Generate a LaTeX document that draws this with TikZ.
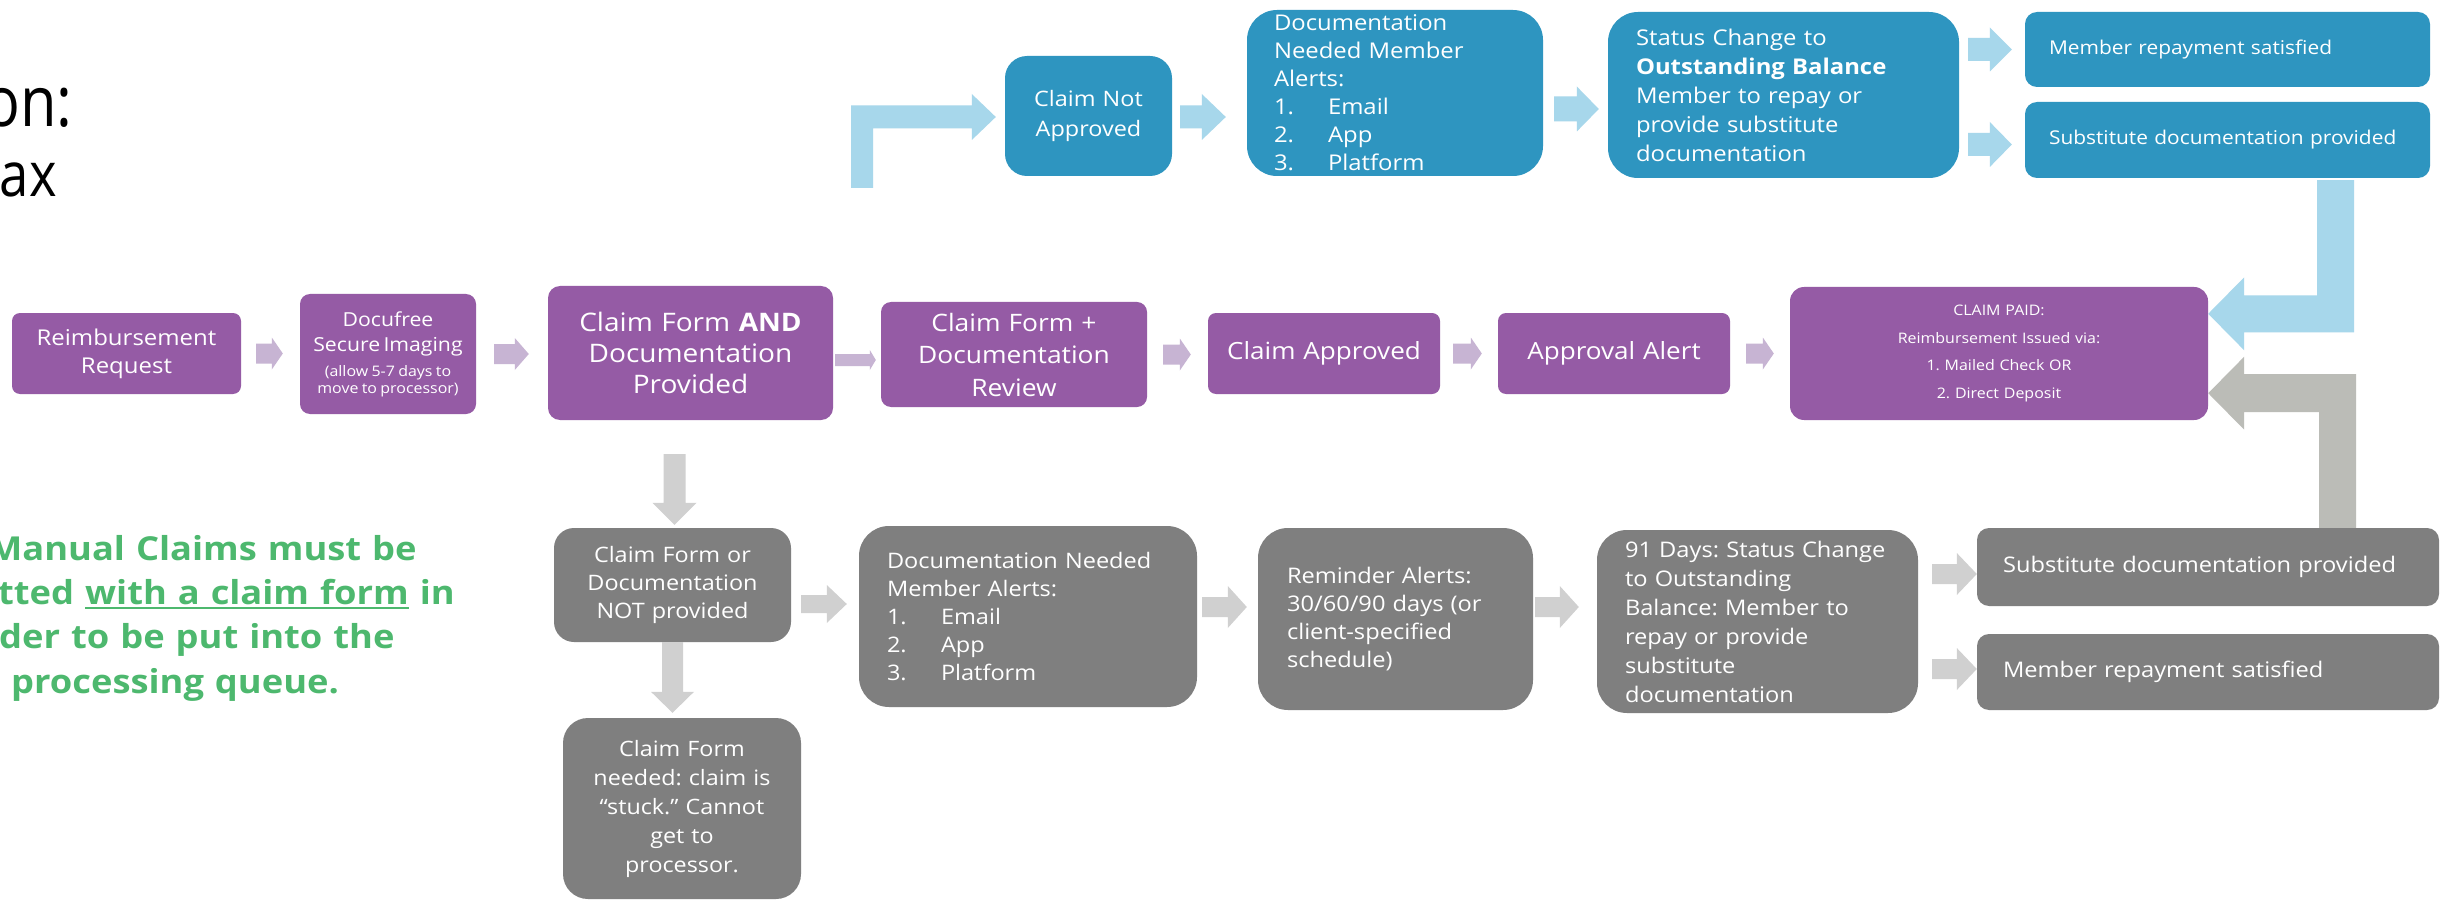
\documentclass[tikz,border=0pt]{standalone}
\usepackage{fontspec}
\setmainfont[FakeStretch=1.1]{Open Sans}
\newfontfamily\headfont[FakeStretch=0.85]{Open Sans}
\usetikzlibrary{calc}
\frenchspacing

\definecolor{pfill}{RGB}{149,91,165}
\definecolor{bfill}{RGB}{46,149,192}
\definecolor{gfill}{RGB}{127,127,127}
\definecolor{parrow}{RGB}{199,180,211}
\definecolor{barrow}{RGB}{167,215,235}
\definecolor{garrow}{RGB}{208,208,208}
\definecolor{retarrow}{RGB}{187,188,183}
\definecolor{notegreen}{RGB}{77,184,110}

\newcommand{\fs}[2]{\fontsize{#1}{#2}\selectfont}
\newcommand{\itemno}[1]{\makebox[54pt][l]{#1}}
\newsavebox{\ulbox}
\newcommand{\thickul}[1]{\sbox{\ulbox}{#1}\rlap{\raisebox{-4.5pt}{\rule{\wd\ulbox}{2pt}}}\usebox{\ulbox}}

% block arrow pointing right: colour, tail point, tip point, shaft half, head half, head length
\newcommand{\blockright}[6]{%
  \fill[#1] let \p1=#2, \p2=#3 in
    (\x1,\y1+#4) -- (\x2-#6,\y1+#4) -- (\x2-#6,\y1+#5) -- (\x2,\y1)
    -- (\x2-#6,\y1-#5) -- (\x2-#6,\y1-#4) -- (\x1,\y1-#4) -- cycle;}
% block arrow pointing down: colour, tail point, tip point, shaft half, head half, head length
\newcommand{\blockdown}[6]{%
  \fill[#1] let \p1=#2, \p2=#3 in
    (\x2-#4,\y1) -- (\x2-#4,\y2+#6) -- (\x2-#5,\y2+#6) -- (\x2,\y2)
    -- (\x2+#5,\y2+#6) -- (\x2+#4,\y2+#6) -- (\x2+#4,\y1) -- cycle;}

\begin{document}
\begin{tikzpicture}[x=1pt,y=-1pt,
  box/.style={rectangle, inner sep=0pt, text=white},
  pbox/.style={box, fill=pfill},
  bbox/.style={box, fill=bfill},
  gbox/.style={box, fill=gfill}]
\useasboundingbox (0,0) rectangle (2441,901);
\clip (0,0) rectangle (2441,901);
\fill[white] (0,0) rectangle (2441,901);

% heading fragments
\node[anchor=base east, inner sep=0pt, font=\headfont\fontsize{70}{84}\selectfont] (heading) at (73,127) {on:};
\node[anchor=base east, inner sep=0pt, font=\headfont\fontsize{62}{74}\selectfont] (subheading) at (57,197) {ax};

% main (purple) row
\node[pbox, rounded corners=8, minimum width=229, minimum height=81, text width=225, align=center, font=\fs{21.8}{28}] (req) at (126.5,353.5) {Reimbursement\\Request};
\node[pbox, rounded corners=10, minimum width=176, minimum height=120, text width=172, align=center] (docu) at (388,354)
  {{\fs{19.3}{25}Docufree\\Secure Imaging\par}\vspace{8pt}{\fs{14.5}{17}(allow 5-7 days to\\move to processor)\par}};
\node[pbox, rounded corners=12, minimum width=285, minimum height=134, text width=281, align=center, font=\fs{25.5}{31}] (cfand) at (690.5,353) {Claim Form \textbf{AND}\\Documentation\\Provided};
\node[pbox, rounded corners=10, minimum width=266, minimum height=105, text width=262, align=center, font=\fs{24}{32.5}] (review) at (1014,354.5) {Claim Form +\\Documentation\\Review};
\node[pbox, rounded corners=8, minimum width=232, minimum height=81, text width=228, align=center, font=\fs{23.7}{30}] (approved) at (1324,353.5) {Claim Approved};
\node[pbox, rounded corners=8, minimum width=232, minimum height=81, text width=228, align=center, font=\fs{23.7}{30}] (alert) at (1614,353.5) {Approval Alert};
\node[pbox, rounded corners=14, minimum width=418, minimum height=133, text width=410, align=center, font=\fs{14.5}{27.7}] (paid) at (1999,353.5) {CLAIM PAID:\\Reimbursement Issued via:\\1. Mailed Check OR\\2. Direct Deposit};

% not approved (blue) row
\node[bbox, rounded corners=22, minimum width=167, minimum height=120, text width=163, align=center, font=\fs{21.3}{30}] (notappr) at (1088.5,116) {Claim Not\\Approved};
\node[bbox, rounded corners=30, minimum width=296, minimum height=166, text width=242, align=left, font=\fs{21.7}{28}] (docalert) at (1395,93) {Documentation\\Needed Member\\Alerts:\\\itemno{1.}Email\\\itemno{2.}App\\\itemno{3.}Platform};
\node[bbox, rounded corners=30, minimum width=351, minimum height=166, text width=295, align=left, font=\fs{21.7}{29}] (status) at (1783.5,95) {Status Change to\\\textbf{Outstanding Balance}\\Member to repay or\\provide substitute\\documentation};
\node[bbox, rounded corners=12, minimum width=405, minimum height=75, text width=357, align=left, font=\fs{19}{26}] (repay) at (2227.5,49.5) {Member repayment satisfied};
\node[bbox, rounded corners=12, minimum width=405, minimum height=76, text width=357, align=left, font=\fs{19}{26}] (subst) at (2227.5,140) {Substitute documentation provided};

% missing documents (grey) row
\node[gbox, rounded corners=20, minimum width=237, minimum height=114, text width=233, align=center, font=\fs{21.3}{28}] (notprov) at (672.5,585) {Claim Form or\\Documentation\\NOT provided};
\node[gbox, rounded corners=25, minimum width=238, minimum height=181, text width=234, align=center, font=\fs{21.2}{29}] (stuck) at (682,808.5) {Claim Form\\needed: claim is\\“stuck.” Cannot\\get to\\processor.};
\node[gbox, rounded corners=30, minimum width=338, minimum height=181, text width=282, align=left, font=\fs{21.4}{28}] (gdoc) at (1028,616.5) {Documentation Needed\\Member Alerts:\\\itemno{1.}Email\\\itemno{2.}App\\\itemno{3.}Platform};
\node[gbox, rounded corners=30, minimum width=275, minimum height=182, text width=217, align=left, font=\fs{21.5}{28.3}] (remind) at (1395.5,619) {Reminder Alerts:\\30/60/90 days (or\\client-specified\\schedule)};
\node[gbox, rounded corners=30, minimum width=321, minimum height=183, text width=265, align=left, font=\fs{21.5}{29}] (days91) at (1757.5,621.5) {91 Days: Status Change\\to Outstanding\\Balance: Member to\\repay or provide\\substitute\\documentation};
\node[gbox, rounded corners=12, minimum width=462, minimum height=78, text width=410, align=left, font=\fs{21.5}{28}] (gsubst) at (2208,567) {Substitute documentation provided};
\node[gbox, rounded corners=12, minimum width=462, minimum height=76, text width=410, align=left, font=\fs{21.5}{28}] (grepay) at (2208,672) {Member repayment satisfied};

% note
\node[anchor=west, inner sep=0pt, text width=520, align=left, text=notegreen, font=\fs{33}{44.3}\bfseries] (note) at (-12,618)
  {Manual Claims must be\\\hspace*{10pt}tted \thickul{with a claim form} in\\\hspace*{11pt}der to be put into the\\\hspace*{23pt}processing queue.};

% purple flow arrows
\blockright{parrow}{($(req.east)+(15,0)$)}{($(docu.west)+(-17,0)$)}{10}{16}{11}
\blockright{parrow}{($(docu.east)+(18,0)$)}{($(cfand.west)+(-19,0)$)}{10}{16}{14}
\blockright{parrow}{($(cfand.east)+(2,7)$)}{($(review.west)+(-5,0)$)}{6}{10}{6}
\blockright{parrow}{($(review.east)+(16,0)$)}{($(approved.west)+(-17,0)$)}{10}{16}{11}
\blockright{parrow}{($(approved.east)+(13,0)$)}{($(alert.west)+(-16,0)$)}{10}{16}{11}
\blockright{parrow}{($(alert.east)+(16,0)$)}{($(paid.west)+(-16,0)$)}{10}{16}{11}

% blue flow arrows
\coordinate (deniedfeed) at (862,188);
\fill[barrow] let \p1=(deniedfeed), \p2=($(notappr.west)+(-9,1)$) in
  (\x1-11,\y1) -- (\x1-11,\y2+11.5) -- (\x2-24,\y2+11.5) -- (\x2-24,\y2+23) -- (\x2,\y2)
  -- (\x2-24,\y2-23) -- (\x2-24,\y2-11.5) -- (\x1+11,\y2-11.5) -- (\x1+11,\y1) -- cycle;
\blockright{barrow}{($(notappr.east)+(8,1)$)}{($(docalert.west)+(-21,0)$)}{11.5}{23}{24}
\blockright{barrow}{($(docalert.east)+(11,16)$)}{($(status.west)+(-9,0)$)}{12.5}{22.5}{22}
\blockright{barrow}{($(status.east |- repay.west)+(9,0)$)}{($(repay.west)+(-13,0)$)}{11.5}{22}{22}
\blockright{barrow}{($(status.east |- subst.west)+(9,4.5)$)}{($(subst.west)+(-13,0)$)}{11.5}{22.5}{22}
\fill[barrow] let \p1=($(subst.south)+(108,2)$), \p2=($(paid.north east)+(0,27)$) in
  (\x1-18.5,\y1) -- (\x1-18.5,\y2+18.5) -- (\x2+36,\y2+18.5) -- (\x2+36,\y2+36.5) -- (\x2,\y2)
  -- (\x2+36,\y2-36.5) -- (\x2+36,\y2-18.5) -- (\x1+18.5,\y2-18.5) -- (\x1+18.5,\y1) -- cycle;

% grey flow arrows
\blockdown{garrow}{($(cfand.south)+(-16,34)$)}{($(notprov.north)+(2,-3)$)}{11}{22}{22}
\blockdown{garrow}{(notprov.south)}{($(stuck.north)+(-9.5,-5)$)}{10.5}{21.5}{21}
\blockright{garrow}{($(notprov.east)+(10,19)$)}{($(gdoc.west)+(-12,0)$)}{9}{19}{20}
\blockright{garrow}{($(gdoc.east)+(5,-9.5)$)}{($(remind.west)+(-11,0)$)}{10}{21}{19}
\blockright{garrow}{($(remind.east)+(2,-12)$)}{($(days91.west)+(-18,0)$)}{10}{21}{19}
\blockright{garrow}{($(days91.east |- gsubst.west)+(14,7)$)}{(gsubst.west)}{10}{21}{20}
\blockright{garrow}{($(days91.east |- grepay.west)+(14,-3)$)}{(grepay.west)}{10}{21}{20}
\fill[retarrow] let \p1=($(gsubst.north)+(129.5,0)$), \p2=($(paid.south east)+(0,-27)$) in
  (\x1+18.5,\y1) -- (\x1+18.5,\y2+19) -- (\x2+36,\y2+19) -- (\x2+36,\y2+36.5) -- (\x2,\y2)
  -- (\x2+36,\y2-36.5) -- (\x2+36,\y2-19) -- (\x1-18.5,\y2-19) -- (\x1-18.5,\y1) -- cycle;
\end{tikzpicture}
\end{document}
